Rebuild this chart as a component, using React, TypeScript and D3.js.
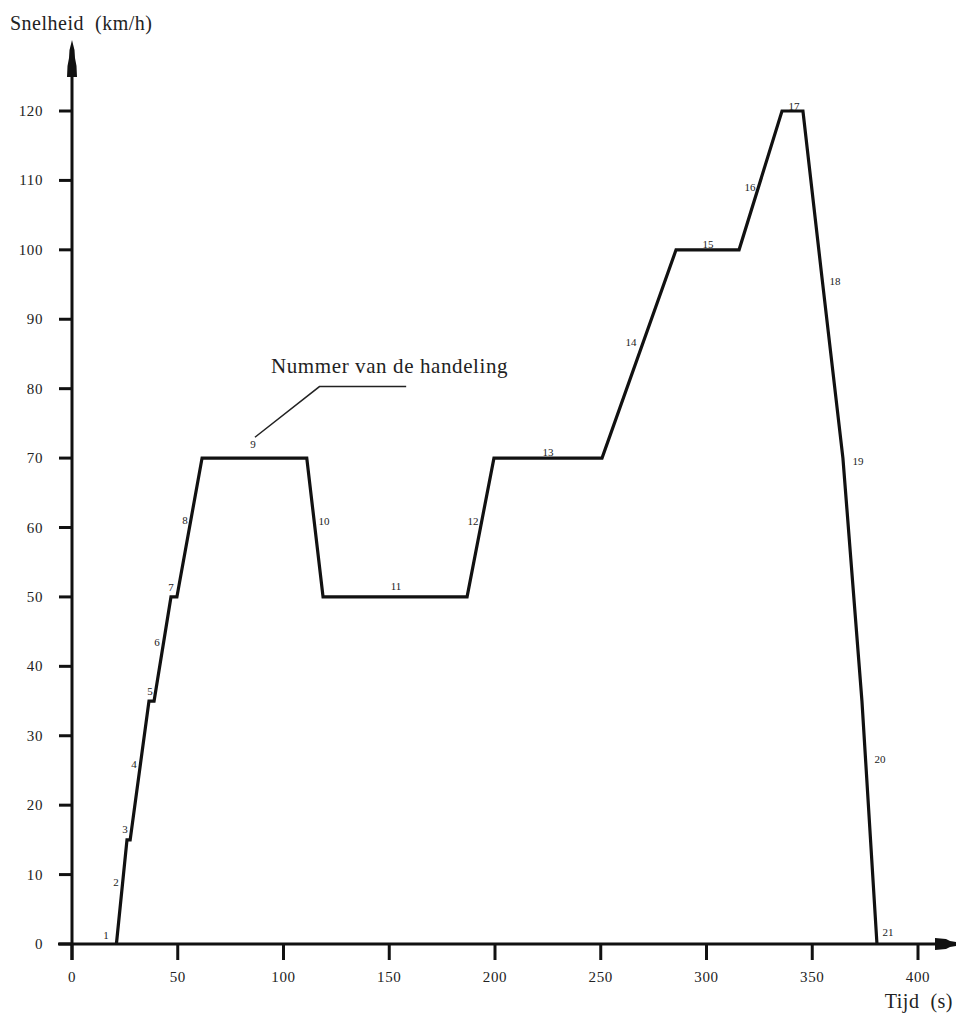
import React from 'react';
import * as d3 from 'd3';

// speed profile: time (s) and speed (km/h) at each corner
const times = [21, 26, 27.5, 36.4, 38.8, 46.8, 49.6, 61.5, 111, 118.7, 186.8, 199.5, 250.6, 285.6, 315.4, 335.7, 345.6, 354.6, 364.5, 373.5, 380.6];
const speeds = [0, 15, 15, 35, 35, 50, 50, 70, 70, 50, 50, 70, 70, 100, 100, 120, 120, 96, 70, 35, 0];

// handling numbers and where they sit (time, speed)
const stepNumbers = ['1', '2', '3', '4', '5', '6', '7', '8', '9', '10', '11', '12', '13', '14', '15', '16', '17', '18', '19', '20', '21'];
const stepTimes = [16.1, 20.8, 25.1, 29.3, 36.9, 40.2, 46.8, 53.4, 85.6, 119.1, 153.2, 189.6, 225.1, 264.3, 300.7, 320.6, 341.4, 360.8, 371.6, 382.0, 385.8];
const stepSpeeds = [1.3, 9.0, 16.6, 25.9, 36.5, 43.5, 51.4, 61.1, 72.0, 61.0, 51.6, 61.0, 70.9, 86.7, 100.9, 109.1, 120.7, 95.5, 69.6, 26.7, 1.7];

const xTicks = [0, 50, 100, 150, 200, 250, 300, 350, 400];
const yTicks = [0, 10, 20, 30, 40, 50, 60, 70, 80, 90, 100, 110, 120];

const FONT = '"Liberation Serif", "DejaVu Serif", serif';

const App: React.FC = () => {
  const width = 956;
  const height = 1021;

  const x = d3.scaleLinear().domain([0, 400]).range([72, 918]);
  const y = d3.scaleLinear().domain([0, 120]).range([944, 111]);

  const pts: [number, number][] = times.map((t, i) => [t, speeds[i]]);
  const line = d3
    .line<[number, number]>()
    .x((d) => x(d[0]))
    .y((d) => y(d[1]));

  const x0 = x(0);
  const y0 = y(0);

  // callout for "Nummer van de handeling", pointing at label 9
  const calloutFrom: [number, number] = [x(86.5), y(73)];
  const calloutKnee: [number, number] = [x(117), y(80.3)];
  const calloutEnd: [number, number] = [x(158), y(80.3)];

  return (
    <svg width={width} height={height} style={{ position: 'absolute', left: 0, top: 0, background: '#fff' }}>
      <rect width={width} height={height} fill="#fff" />

      {/* y axis */}
      <line x1={x0} x2={x0} y1={y0 + 16} y2={72} stroke="#111" strokeWidth={3} />
      <polygon
        points={`${x0},40 ${x0 + 2.5},50 ${x0 + 3},58 ${x0 + 4.5},66 ${x0 + 5},77 ${x0 - 5},77 ${x0 - 4.5},66 ${x0 - 3},58 ${x0 - 2.5},50`}
        fill="#111"
      />
      {yTicks.map((v) => (
        <g key={`y${v}`}>
          <line x1={x0 - 13} x2={x0} y1={y(v)} y2={y(v)} stroke="#111" strokeWidth={3} />
          <text x={43} y={y(v) + 5} textAnchor="end" fontFamily={FONT} fontSize={15} letterSpacing={0.6} fill="#222">
            {v}
          </text>
        </g>
      ))}

      {/* x axis */}
      <line x1={58} x2={938} y1={y0} y2={y0} stroke="#111" strokeWidth={3} />
      <polygon
        points={`935,${y0 - 6} 946,${y0 - 5} 950,${y0 - 3} 956,${y0 - 2} 956,${y0 + 2} 950,${y0 + 3} 946,${y0 + 5} 935,${y0 + 6}`}
        fill="#111"
      />
      {xTicks.map((t) => (
        <g key={`x${t}`}>
          <line x1={x(t)} x2={x(t)} y1={y0} y2={y0 + 16} stroke="#111" strokeWidth={3} />
          <text x={x(t)} y={y0 + 38} textAnchor="middle" fontFamily={FONT} fontSize={15} letterSpacing={0.6} fill="#222">
            {t}
          </text>
        </g>
      ))}

      {/* axis titles */}
      <text x={10} y={30} fontFamily={FONT} fontSize={20} letterSpacing={0.5} fill="#222">
        {'Snelheid\u00a0 (km/h)'}
      </text>
      <text x={953} y={1008} textAnchor="end" fontFamily={FONT} fontSize={20} letterSpacing={0.5} fill="#222">
        {'Tijd\u00a0 (s)'}
      </text>

      {/* speed profile */}
      <path d={line(pts) ?? ''} fill="none" stroke="#111" strokeWidth={3.2} strokeLinejoin="miter" />

      {/* step numbers */}
      {stepNumbers.map((s, i) => (
        <text
          key={`s${s}`}
          x={x(stepTimes[i])}
          y={y(stepSpeeds[i]) + 4}
          textAnchor="middle"
          fontFamily={FONT}
          fontSize={11}
          fill="#222"
        >
          {s}
        </text>
      ))}

      {/* callout */}
      <polyline
        points={[calloutFrom, calloutKnee, calloutEnd].map((p) => p.join(',')).join(' ')}
        fill="none"
        stroke="#222"
        strokeWidth={1.5}
      />
      <text x={271} y={373} fontFamily={FONT} fontSize={21} letterSpacing={0.6} fill="#222">
        Nummer van de handeling
      </text>
    </svg>
  );
};

export default App;
